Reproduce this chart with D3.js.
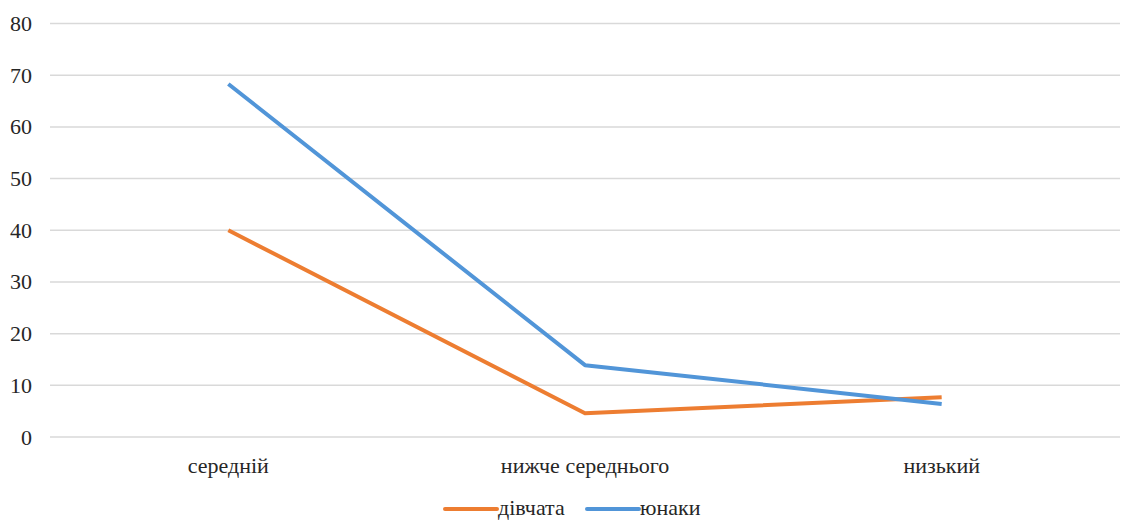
<!DOCTYPE html>
<html>
<head>
<meta charset="utf-8">
<script src="https://cdn.jsdelivr.net/npm/d3@7"></script>
<style>
  html, body { margin: 0; padding: 0; background: #fff; }
  svg { display: block; }
</style>
</head>
<body>
<svg id="chart" width="1124" height="520"></svg>
<script>
// Level categories and values per group
const categories = ["середній", "нижче середнього", "низький"];
const girls = [40, 4.6, 7.7];
const boys = [68.3, 13.9, 6.4];
const seriesNames = ["дівчата", "юнаки"];
const yTicks = [0, 10, 20, 30, 40, 50, 60, 70, 80];

const colors = { "дівчата": "#ED7D31", "юнаки": "#5195D8" };
const series = [
  { name: seriesNames[0], values: girls },
  { name: seriesNames[1], values: boys }
];

const svg = d3.select("#chart");
const margin = { left: 50, right: 4, top: 23.5, bottom: 83 };
const W = 1124, H = 520;
const FONT = '"Liberation Serif"';
const FONT_SIZE = 22;
const TEXT_COLOR = "#262626";

const styleText = sel => sel
  .attr("font-family", FONT)
  .attr("font-size", FONT_SIZE)
  .attr("fill", TEXT_COLOR);

const x = d3.scaleBand().domain(categories).range([margin.left, W - margin.right]);
const y = d3.scaleLinear().domain([0, 80]).range([H - margin.bottom, margin.top]);

// Gridlines
svg.append("g")
  .selectAll("line")
  .data(yTicks)
  .join("line")
  .attr("x1", margin.left)
  .attr("x2", W - margin.right)
  .attr("y1", d => y(d))
  .attr("y2", d => y(d))
  .attr("stroke", "#d9d9d9")
  .attr("stroke-width", 1.5);

// Y axis labels
const yAxis = d3.axisLeft(y).tickValues(yTicks).tickSize(0).tickPadding(18);
svg.append("g")
  .attr("transform", `translate(${margin.left},0)`)
  .call(yAxis)
  .attr("font-family", null)
  .attr("font-size", null)
  .call(g => g.select(".domain").remove())
  .call(g => g.selectAll("text").call(styleText));

// X axis labels
const xAxis = d3.axisBottom(x).tickSize(0).tickPadding(20);
svg.append("g")
  .attr("transform", `translate(0,${y(0)})`)
  .call(xAxis)
  .attr("font-family", null)
  .attr("font-size", null)
  .call(g => g.select(".domain").remove())
  .call(g => g.selectAll("text").call(styleText));

// Lines
const line = d3.line()
  .x((d, i) => x(categories[i]) + x.bandwidth() / 2)
  .y(d => y(d));

svg.append("g")
  .selectAll("path")
  .data(series)
  .join("path")
  .attr("fill", "none")
  .attr("stroke", d => colors[d.name])
  .attr("stroke-width", 4)
  .attr("stroke-linejoin", "round")
  .attr("d", d => line(d.values));

// Legend
const legend = svg.append("g").attr("transform", "translate(445,509)");
const items = legend.selectAll("g")
  .data(series)
  .join("g")
  .attr("transform", (d, i) => `translate(${i * 142},0)`);
items.append("line")
  .attr("x1", 0).attr("x2", 52)
  .attr("y1", 0).attr("y2", 0)
  .attr("stroke", d => colors[d.name])
  .attr("stroke-width", 4)
  .attr("stroke-linecap", "round");
items.append("text")
  .attr("x", 53)
  .attr("y", 6)
  .call(styleText)
  .text(d => d.name);
</script>
</body>
</html>
